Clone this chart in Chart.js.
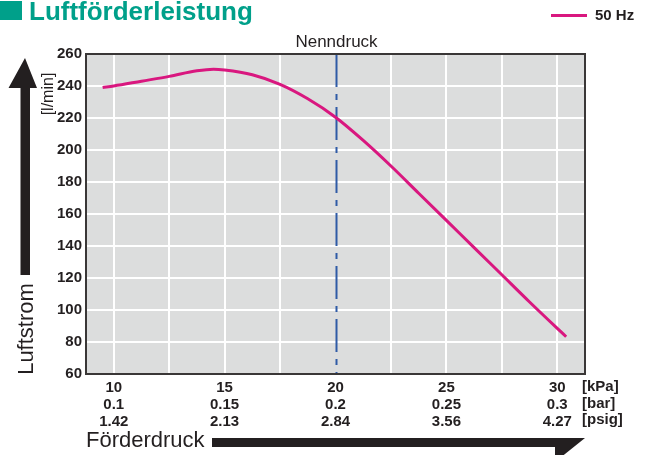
<!DOCTYPE html>
<html>
<head>
<meta charset="utf-8">
<script src="https://cdn.jsdelivr.net/npm/chart.js@4.4.1/dist/chart.umd.min.js"></script>
<style>
html,body{margin:0;padding:0;background:#fff;}
#wrap{width:645px;height:455px;position:relative;}
</style>
</head>
<body>
<div id="wrap"><canvas id="c" width="645" height="455"></canvas></div>
<script>
// ---- data ----
const pressureKPa = [9.5, 10, 11.25, 12.5, 13.75, 14.5, 15, 16.25, 17.5, 18.75, 20, 21.25, 22.5, 23.75, 25, 26.25, 27.5, 28.75, 30, 30.4];
const airflow50Hz = [239, 240, 243, 246, 249.5, 250.5, 250, 247, 241, 232, 220.5, 206, 190, 173, 156, 139, 122, 105, 88.5, 83.3];
const kPaTicks = [10, 15, 20, 25, 30];
const kPaLabels = ['10', '15', '20', '25', '30'];
const barLabels = ['0.1', '0.15', '0.2', '0.25', '0.3'];
const psigLabels = ['1.42', '2.13', '2.84', '3.56', '4.27'];
const gridX = [10, 12.5, 15, 17.5, 20, 22.5, 25, 27.5, 30];
const yTicks = [60, 80, 100, 120, 140, 160, 180, 200, 220, 240, 260];
const nominalPressure = 20;
const unitLabels = ['[kPa]', '[bar]', '[psig]'];

const DARK = '#231f20';
const CURVE = '#d9177f';
const TEAL = '#00a08a';
const SANS = '"Liberation Sans", Arial, sans-serif';

const decor = {
  id: 'decor',
  beforeDraw(chart) {
    const {ctx, chartArea: a} = chart;
    ctx.save();
    ctx.fillStyle = '#fff';
    ctx.fillRect(0, 0, chart.width, chart.height);
    ctx.fillStyle = '#dcdddd';
    ctx.fillRect(a.left, a.top, a.right - a.left, a.bottom - a.top);
    ctx.restore();
  },
  beforeDatasetsDraw(chart) {
    const {ctx, chartArea: a, scales} = chart;
    const x = Math.round(scales.x.getPixelForValue(nominalPressure)) + 0.5;
    ctx.save();
    ctx.strokeStyle = '#2f5ba6';
    ctx.lineWidth = 2;
    ctx.setLineDash([33, 7, 6, 7]);
    ctx.beginPath();
    ctx.moveTo(x, a.top);
    ctx.lineTo(x, a.bottom);
    ctx.stroke();
    ctx.setLineDash([]);
    ctx.fillStyle = DARK;
    ctx.font = '17px ' + SANS;
    ctx.textAlign = 'center';
    ctx.textBaseline = 'alphabetic';
    ctx.fillText('Nenndruck', x, 46.5);
    ctx.restore();
  },
  afterDraw(chart) {
    const {ctx, chartArea: a} = chart;
    ctx.save();
    // frame
    ctx.strokeStyle = '#3a3737';
    ctx.lineWidth = 2;
    ctx.strokeRect(a.left, a.top, a.right - a.left, a.bottom - a.top);
    // title
    ctx.fillStyle = TEAL;
    ctx.fillRect(0, 1, 22, 19);
    ctx.font = 'bold 26px ' + SANS;
    ctx.textAlign = 'left';
    ctx.textBaseline = 'alphabetic';
    ctx.fillText('Luftförderleistung', 29, 20);
    // legend
    ctx.strokeStyle = CURVE;
    ctx.lineWidth = 3;
    ctx.beginPath();
    ctx.moveTo(551, 15.5);
    ctx.lineTo(587, 15.5);
    ctx.stroke();
    ctx.fillStyle = DARK;
    ctx.font = 'bold 15px ' + SANS;
    ctx.fillText('50 Hz', 595, 20);
    // unit labels at right of x ticks
    ctx.font = 'bold 15px ' + SANS;
    const lineYs = [391, 408, 424];
    unitLabels.forEach((t, i) => ctx.fillText(t, 582, lineYs[i]));
    // [l/min]
    ctx.save();
    ctx.translate(53, 94);
    ctx.rotate(-Math.PI / 2);
    ctx.font = '16px ' + SANS;
    ctx.textAlign = 'center';
    ctx.fillText('[l/min]', 0, 0);
    ctx.restore();
    // Luftstrom + arrow
    ctx.save();
    ctx.translate(33, 329);
    ctx.rotate(-Math.PI / 2);
    ctx.font = '22px ' + SANS;
    ctx.textAlign = 'center';
    ctx.fillText('Luftstrom', 0, 0);
    ctx.restore();
    ctx.fillStyle = DARK;
    ctx.beginPath();
    ctx.moveTo(20.5, 275);
    ctx.lineTo(20.5, 88);
    ctx.lineTo(8.5, 88);
    ctx.lineTo(25, 58);
    ctx.lineTo(37, 88);
    ctx.lineTo(30, 88);
    ctx.lineTo(30, 275);
    ctx.closePath();
    ctx.fill();
    // Förderdruck + arrow
    ctx.font = '22px ' + SANS;
    ctx.textAlign = 'left';
    ctx.fillText('Förderdruck', 86, 447);
    ctx.beginPath();
    ctx.moveTo(212, 438);
    ctx.lineTo(585, 438);
    ctx.lineTo(555, 462);
    ctx.lineTo(555, 447);
    ctx.lineTo(212, 447);
    ctx.closePath();
    ctx.fill();
    ctx.restore();
  }
};

new Chart(document.getElementById('c'), {
  type: 'line',
  data: {
    datasets: [{
      label: '50 Hz',
      data: pressureKPa.map((p, i) => ({x: p, y: airflow50Hz[i]})),
      borderColor: CURVE,
      borderWidth: 3,
      pointRadius: 0,
      fill: false,
      cubicInterpolationMode: 'monotone'
    }]
  },
  options: {
    responsive: false,
    animation: false,
    layout: {padding: {top: 54, right: 60, left: 0, bottom: 0}},
    plugins: {legend: {display: false}, tooltip: {enabled: false}},
    scales: {
      x: {
        type: 'linear',
        min: 8.75,
        max: 31.25,
        afterBuildTicks: s => { s.ticks = gridX.map(v => ({value: v})); },
        afterFit: s => { s.height = 81; },
        grid: {
          color: ctx => (ctx.tick && ctx.tick.value === nominalPressure) ? 'rgba(0,0,0,0)' : '#ffffff',
          lineWidth: 2,
          drawTicks: false
        },
        border: {display: false},
        ticks: {
          autoSkip: false,
          maxRotation: 0,
          padding: 6,
          color: DARK,
          font: {family: SANS, size: 15, weight: 'bold', lineHeight: 1.11},
          callback: v => {
            const i = kPaTicks.indexOf(v);
            return i < 0 ? '' : [kPaLabels[i], barLabels[i], psigLabels[i]];
          }
        }
      },
      y: {
        type: 'linear',
        min: 60,
        max: 260,
        afterBuildTicks: s => { s.ticks = yTicks.map(v => ({value: v})); },
        afterFit: s => { s.width = 86; },
        grid: {color: '#ffffff', lineWidth: 2, drawTicks: false},
        border: {display: false},
        ticks: {
          padding: 4,
          color: DARK,
          font: {family: SANS, size: 15, weight: 'bold'}
        }
      }
    }
  },
  plugins: [decor]
});
</script>
</body>
</html>
